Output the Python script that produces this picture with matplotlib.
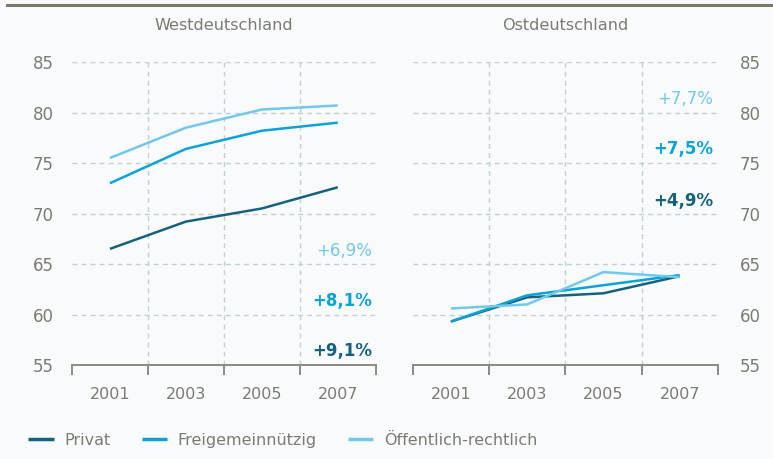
import numpy as np
import matplotlib
matplotlib.use('Agg')
import matplotlib.pyplot as plt

# data
years = ['2001', '2003', '2005', '2007']
series = ['Privat', 'Freigemeinnützig', 'Öffentlich-rechtlich']
west_privat = [66.5, 69.2, 70.5, 72.6]
west_frei = [73.0, 76.4, 78.2, 79.0]
west_oeff = [75.5, 78.5, 80.3, 80.7]
ost_privat = [59.3, 61.7, 62.1, 63.8]
ost_frei = [59.3, 61.9, 62.9, 63.9]
ost_oeff = [60.6, 61.0, 64.2, 63.7]
west_changes = ['+9,1%', '+8,1%', '+6,9%']
ost_changes = ['+4,9%', '+7,5%', '+7,7%']
yticks = [55, 60, 65, 70, 75, 80, 85]

colors = ['#15627f', '#0aa3d9', '#72c8ec']
gray = '#7b7b72'
grid_col = '#bfd0d7'
bg = '#f9fafc'

plt.rcParams['font.family'] = ['DejaVu Sans']

fig = plt.figure(figsize=(7.73, 4.59), dpi=100, facecolor=bg)
fig.add_artist(plt.Line2D([7 / 773, 1], [0.989, 0.989], color='#7f786a', lw=2.2))

ax_w = fig.add_axes([0.0931, 0.2048, 0.393, 0.660])
ax_o = fig.add_axes([0.534, 0.2048, 0.3946, 0.660])

x = np.arange(len(years))

def style(ax, title, right=False):
    ax.set_facecolor(bg)
    ax.set_xlim(-0.5, len(years) - 0.5)
    ax.set_ylim(55, 85)
    ax.set_yticks(yticks)
    ax.set_xticks(x)
    ax.set_xticklabels(years)
    ax.set_xticks(np.arange(-0.5, len(years)), minor=True)
    for s in ['top', 'left', 'right']:
        ax.spines[s].set_visible(False)
    ax.spines['bottom'].set_color('#8a8a80')
    ax.spines['bottom'].set_linewidth(1.4)
    for v in yticks[1:]:
        ax.axhline(v, color=grid_col, lw=1.0, ls=(0, (3.5, 3)), zorder=0)
    for v in np.arange(0.5, len(years) - 1):
        ax.axvline(v, color=grid_col, lw=1.0, ls=(0, (3.5, 3)), zorder=0)
    ax.tick_params(axis='x', which='major', length=0, pad=16, labelsize=11.5, labelcolor=gray)
    ax.tick_params(axis='x', which='minor', length=7, width=1.4, color='#8a8a80', direction='out')
    if right:
        ax.yaxis.tick_right()
        ax.tick_params(axis='y', length=0, pad=16, labelsize=12, labelcolor=gray)
    else:
        ax.tick_params(axis='y', length=0, pad=13, labelsize=12, labelcolor=gray)
    ax.set_title(title, color=gray, fontsize=11.6, pad=23)

style(ax_w, 'Westdeutschland')
style(ax_o, 'Ostdeutschland', right=True)

handles = []
for vals, c, name in zip([west_privat, west_frei, west_oeff], colors, series):
    h, = ax_w.plot(x, vals, color=c, lw=1.8, label=name, solid_capstyle='butt')
    handles.append(h)
for vals, c in zip([ost_privat, ost_frei, ost_oeff], colors):
    ax_o.plot(x, vals, color=c, lw=1.8, solid_capstyle='butt')

# change labels, positioned in axes fraction
west_pos = [0.047, 0.21, 0.377]
ost_pos = [0.543, 0.713, 0.877]
weights = ['bold', 'bold', 'normal']
for lab, yp, c, w in zip(west_changes, west_pos, colors, weights):
    ax_w.text(0.987, yp, lab, transform=ax_w.transAxes, ha='right', va='center',
              color=c, fontsize=12, fontweight=w)
for lab, yp, c, w in zip(ost_changes, ost_pos, colors, weights):
    ax_o.text(0.984, yp, lab, transform=ax_o.transAxes, ha='right', va='center',
              color=c, fontsize=12, fontweight=w)

leg = fig.legend(handles=handles, loc='center left', bbox_to_anchor=(0.022, 0.041),
                 ncol=3, frameon=False, handlelength=1.6, handletextpad=0.65,
                 columnspacing=1.95, fontsize=11.5, borderpad=0.2)
for t in leg.get_texts():
    t.set_color(gray)
for l in leg.get_lines():
    l.set_linewidth(2.5)

fig.savefig('out.png', dpi=100, facecolor=bg)
